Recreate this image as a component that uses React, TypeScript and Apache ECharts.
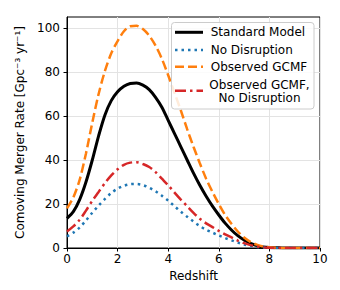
import React, { useEffect, useRef } from "react";
import * as echarts from "echarts";

const redshift = [
  0, 0.25, 0.5, 0.75, 1, 1.25, 1.5, 1.75, 2, 2.25, 2.5, 2.75, 3, 3.25, 3.5, 3.75, 4, 4.25, 4.5, 4.75,
  5, 5.25, 5.5, 5.75, 6, 6.25, 6.5, 6.75, 7, 7.25, 7.5, 7.75, 8, 8.25, 8.5, 8.75, 9, 9.25, 9.5, 9.75, 10,
];
const standardModel = [
  13.5, 16.5, 22, 30, 40, 51, 60.5, 67, 71, 73.5, 74.8, 75, 74, 72, 68.5, 64, 58, 52, 46, 40,
  34, 28.5, 23.5, 19, 15, 11.3, 8.2, 5.6, 3.6, 2.1, 1.1, 0.5, 0.2, 0.1, 0.05, 0, 0, 0, 0, 0, 0,
];
const noDisruption = [
  5.3, 7, 9.3, 12.5, 16, 19.3, 22.3, 25, 27, 28.3, 29, 29.1, 28.6, 27.4, 25.8, 23.8, 21.5, 19, 16.5, 14.2,
  12, 10, 8.3, 7, 5.7, 4.5, 3.5, 2.5, 1.6, 0.9, 0.5, 0.2, 0.1, 0, 0, 0, 0, 0, 0, 0, 0,
];
const observedGCMF = [
  18, 23, 31, 43, 57, 70, 80.5, 88.5, 94, 98.5, 100.8, 101, 99.5, 96.5, 92, 86, 78.5, 70.5, 62.5, 54,
  46, 38.5, 31.5, 25.5, 20, 15, 11, 7.5, 4.8, 2.8, 1.5, 0.7, 0.3, 0.1, 0, 0, 0, 0, 0, 0, 0,
];
const observedNoDisruption = [
  7.5, 9.8, 12.8, 17, 21.5, 25.5, 29.5, 33, 35.8, 37.8, 38.8, 39, 38.2, 36.8, 34.5, 31.5, 28.5, 25.2, 22, 19,
  16, 13.3, 11.2, 9.5, 7.8, 6.2, 4.8, 3.4, 2.2, 1.3, 0.7, 0.3, 0.1, 0, 0, 0, 0, 0, 0, 0, 0,
];

const xTicks = [0, 2, 4, 6, 8, 10];
const yTicks = [0, 20, 40, 60, 80, 100];

const FONT = "DejaVu Sans";

const pairs = (ys: number[]) => redshift.map((x, i) => [x, ys[i]]);

export default function App() {
  const ref = useRef<HTMLDivElement>(null);
  useEffect(() => {
    if (!ref.current) return;
    const chart = echarts.init(ref.current, undefined, { renderer: "svg" });
    const legendY = [32.3, 50, 66.7, 90.7];
    const lx1 = 175, lx2 = 203, tx = 210.7;
    const smooth = 0.3;
    chart.setOption({
      animation: false,
      backgroundColor: "#fff",
      grid: { left: 67, right: 20, top: 17, bottom: 42, show: true, borderColor: "#000", borderWidth: 1, backgroundColor: "transparent" },
      xAxis: {
        type: "value", min: 0, max: 10, interval: 2,
        name: "Redshift", nameLocation: "middle", nameGap: 22,
        nameTextStyle: { fontFamily: FONT, fontSize: 12, color: "#000" },
        axisLine: { show: true, lineStyle: { color: "#000", width: 1 } },
        axisTick: { show: true, length: 3.5, lineStyle: { color: "#000" } },
        axisLabel: { fontFamily: FONT, fontSize: 12, color: "#000", margin: 5, customValues: xTicks },
        splitLine: { show: true, lineStyle: { color: "#e3e3e3", width: 1 } },
      },
      yAxis: {
        type: "value", min: 0, max: 105, interval: 20,
        name: "Comoving Merger Rate [Gpc⁻³ yr⁻¹]", nameLocation: "middle", nameGap: 38, nameRotate: 90,
        nameTextStyle: { fontFamily: FONT, fontSize: 12, color: "#000" },
        axisLine: { show: true, lineStyle: { color: "#000", width: 1 } },
        axisTick: { show: true, length: 3.5, lineStyle: { color: "#000" }, customValues: yTicks },
        axisLabel: { fontFamily: FONT, fontSize: 12, color: "#000", margin: 7, customValues: yTicks },
        splitLine: { show: true, lineStyle: { color: "#e3e3e3", width: 1 } },
      },
      series: [
        { name: "Standard Model", type: "line", data: pairs(standardModel), showSymbol: false, symbol: "none", smooth,
          lineStyle: { color: "#000", width: 3 } },
        { name: "No Disruption", type: "line", data: pairs(noDisruption), showSymbol: false, symbol: "none", smooth,
          lineStyle: { color: "#1f77b4", width: 2.5, type: [2.5, 4] } },
        { name: "Observed GCMF", type: "line", data: pairs(observedGCMF), showSymbol: false, symbol: "none", smooth,
          lineStyle: { color: "#ff7f0e", width: 2.5, type: [9, 4] } },
        { name: "Observed GCMF, No Disruption", type: "line", data: pairs(observedNoDisruption), showSymbol: false, symbol: "none", smooth,
          lineStyle: { color: "#d62728", width: 2.5, type: [11, 4, 2.5, 4] } },
      ],
      graphic: [
        { type: "rect", shape: { x: 171.5, y: 22.5, width: 142.5, height: 86.5, r: 3 }, style: { fill: "rgba(255,255,255,0.85)", stroke: "#cccccc", lineWidth: 1 }, z: 100 },
        { type: "line", shape: { x1: lx1, y1: legendY[0], x2: lx2, y2: legendY[0] }, style: { stroke: "#000", lineWidth: 3 }, z: 101 },
        { type: "line", shape: { x1: lx1, y1: legendY[1], x2: lx2, y2: legendY[1] }, style: { stroke: "#1f77b4", lineWidth: 2.5, lineDash: [2.5, 4] }, z: 101 },
        { type: "line", shape: { x1: lx1, y1: legendY[2], x2: lx2, y2: legendY[2] }, style: { stroke: "#ff7f0e", lineWidth: 2.5, lineDash: [9, 4] }, z: 101 },
        { type: "line", shape: { x1: lx1, y1: legendY[3], x2: lx2, y2: legendY[3] }, style: { stroke: "#d62728", lineWidth: 2.5, lineDash: [11, 4, 2.5, 4] }, z: 101 },
        { type: "text", x: tx, y: legendY[0], style: { text: "Standard Model", fontFamily: FONT, fontSize: 12, fill: "#000", verticalAlign: "middle" }, z: 101 },
        { type: "text", x: tx, y: legendY[1], style: { text: "No Disruption", fontFamily: FONT, fontSize: 12, fill: "#000", verticalAlign: "middle" }, z: 101 },
        { type: "text", x: tx, y: legendY[2], style: { text: "Observed GCMF", fontFamily: FONT, fontSize: 12, fill: "#000", verticalAlign: "middle" }, z: 101 },
        { type: "text", x: 259.5, y: 85, style: { text: "Observed GCMF,", fontFamily: FONT, fontSize: 12, fill: "#000", verticalAlign: "middle", align: "center" }, z: 101 },
        { type: "text", x: 259.5, y: 97.7, style: { text: "No Disruption", fontFamily: FONT, fontSize: 12, fill: "#000", verticalAlign: "middle", align: "center" }, z: 101 },
      ],
    });
    return () => chart.dispose();
  }, []);
  return <div ref={ref} style={{ position: "fixed", left: 0, top: 0, width: 340, height: 290 }} />;
}
